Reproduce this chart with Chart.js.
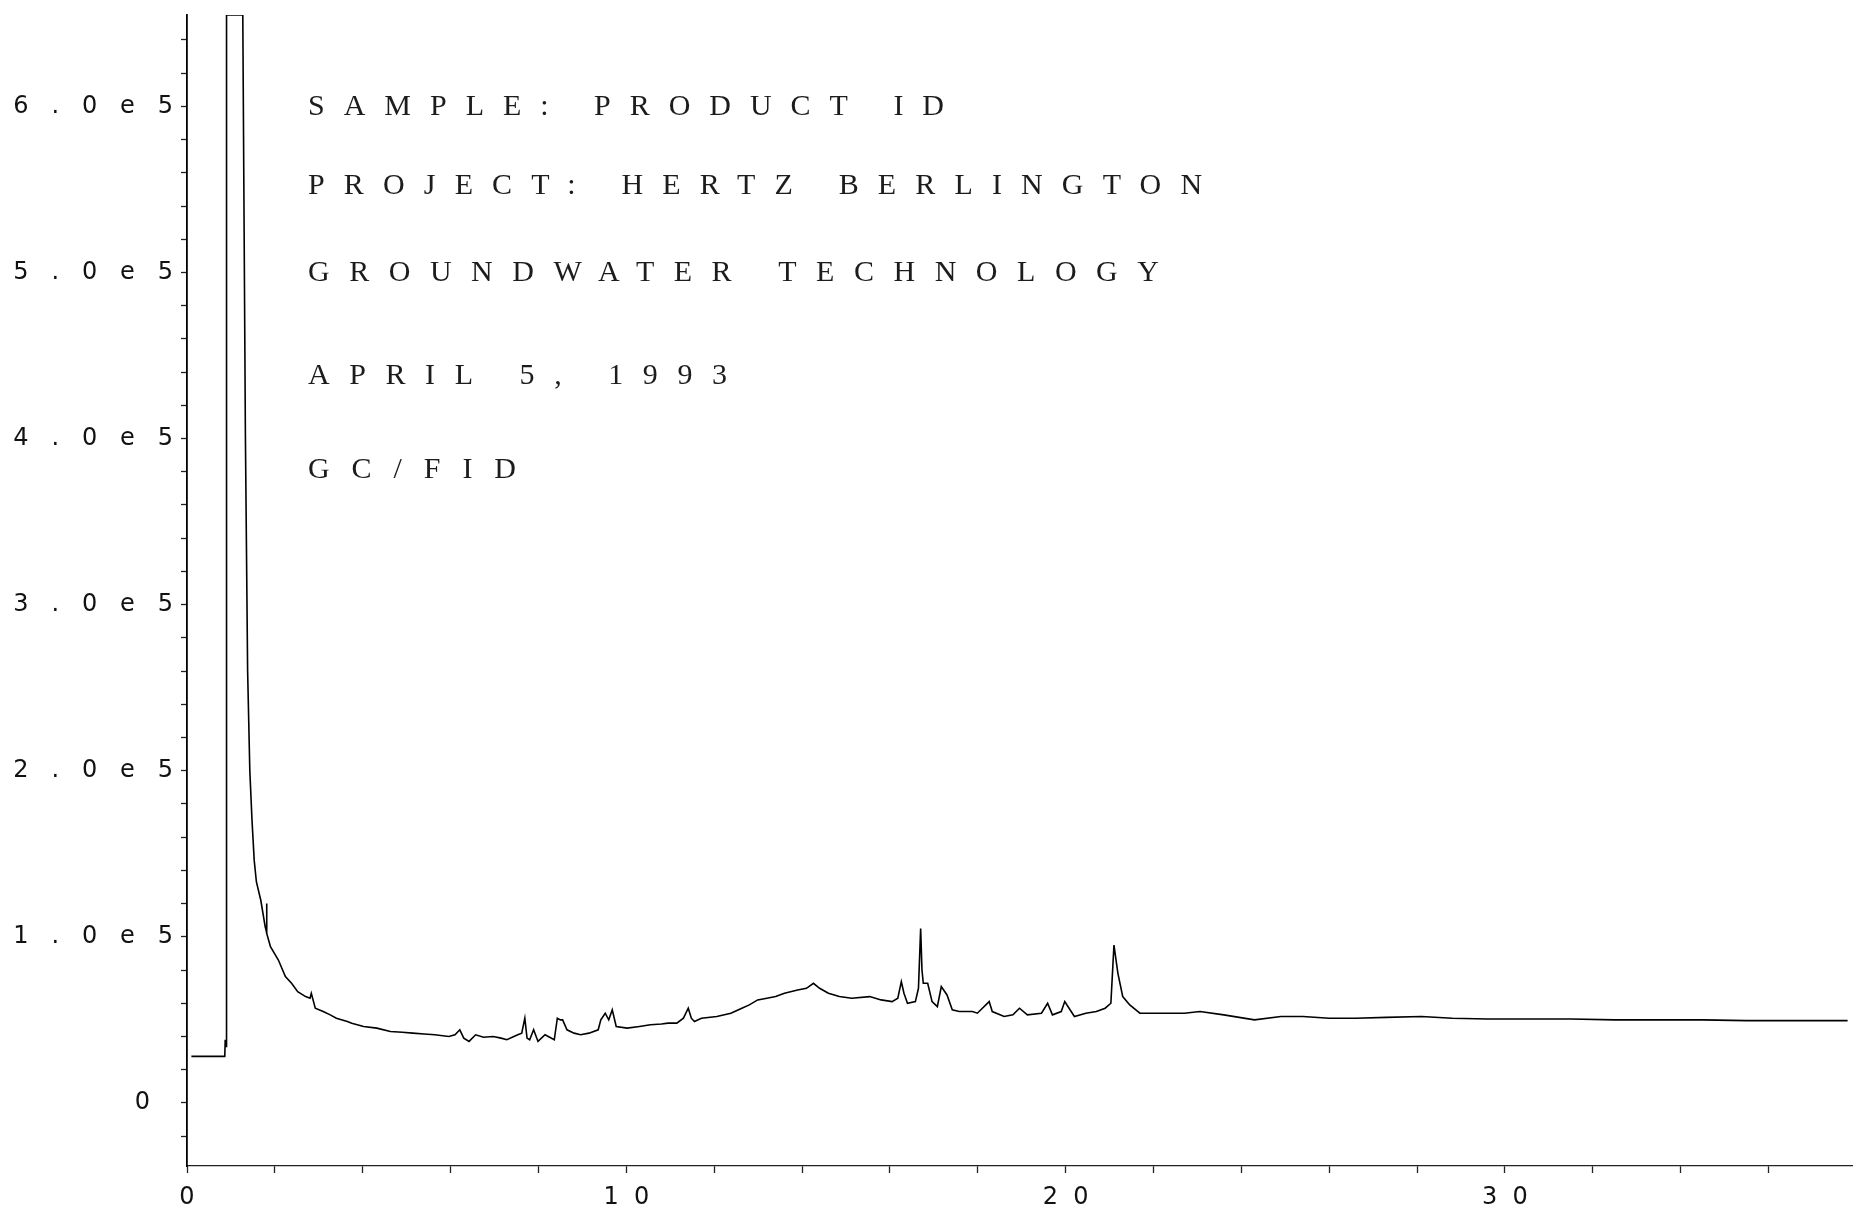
<!DOCTYPE html>
<html>
<head>
<meta charset="utf-8">
<title>GC/FID chromatogram</title>
<script src="https://cdn.jsdelivr.net/npm/chart.js@4.4.1/dist/chart.umd.min.js"></script>
<style>
  html, body { margin: 0; padding: 0; background: #fff; }
  canvas { display: block; }
</style>
</head>
<body>
<canvas id="gcChart" width="1860" height="1222"></canvas>
<script>
// retention time in minutes
const retentionTimes = [
  0.10, 0.86, 0.87, 0.88, 0.89, 0.90, 1.27, 1.33, 1.38, 1.43,
  1.48, 1.53, 1.58, 1.68, 1.78, 1.80, 1.81, 1.82, 1.90, 2.08,
  2.24, 2.38, 2.52, 2.70, 2.80, 2.83, 2.92, 3.10, 3.26, 3.40,
  3.65, 3.75, 4.02, 4.32, 4.63, 4.90, 5.14, 5.40, 5.64, 5.96,
  6.10, 6.21, 6.30, 6.42, 6.57, 6.75, 6.97, 7.15, 7.28, 7.53,
  7.62, 7.69, 7.74, 7.80, 7.89, 7.99, 8.15, 8.36, 8.43, 8.50,
  8.55, 8.65, 8.81, 8.96, 9.15, 9.36, 9.42, 9.52, 9.60, 9.68,
  9.77, 10.02, 10.30, 10.55, 10.80, 10.95, 11.15, 11.30, 11.41, 11.48,
  11.55, 11.71, 12.06, 12.38, 12.63, 12.80, 12.99, 13.20, 13.40, 13.60,
  13.90, 14.10, 14.26, 14.40, 14.60, 14.85, 15.13, 15.54, 15.80, 16.05,
  16.18, 16.26, 16.32, 16.40, 16.58, 16.65, 16.70, 16.73, 16.76, 16.86,
  16.96, 17.08, 17.17, 17.30, 17.42, 17.58, 17.88, 17.99, 18.26, 18.33,
  18.60, 18.80, 18.95, 19.13, 19.45, 19.59, 19.70, 19.90, 19.98, 20.20,
  20.46, 20.70, 20.90, 21.03, 21.10, 21.19, 21.30, 21.46, 21.69, 22.00,
  22.70, 23.06, 23.60, 24.30, 24.90, 25.40, 26.00, 26.60, 27.30, 28.10,
  28.80, 29.60, 30.50, 31.50, 32.50, 33.50, 34.50, 35.50, 36.50, 37.80
];

// FID response (counts); the solvent peak is clipped at the top of the plot
const detectorResponse = [
  28000, 28000, 38000, 34000, 34000, 655000, 655000, 400000, 260000, 200000,
  170000, 146000, 133000, 122000, 106000, 104000, 120000, 102000, 94000, 86000,
  76000, 72000, 67000, 64000, 63000, 66000, 57000, 55000, 53000, 51000,
  49000, 48000, 46000, 45000, 43000, 42500, 42000, 41500, 41000, 40000,
  41000, 44000, 39000, 37000, 41000, 39500, 40000, 39000, 38000, 41000,
  42000, 51000, 39000, 38000, 44000, 37000, 41000, 38000, 51000, 50000,
  50000, 44000, 42000, 41000, 42000, 44000, 50000, 54000, 50000, 56000,
  46000, 45000, 46000, 47000, 47500, 48000, 48000, 51000, 57000, 51000,
  49000, 51000, 52000, 54000, 57000, 59000, 62000, 63000, 64000, 66000,
  68000, 69000, 72000, 69000, 66000, 64000, 63000, 64000, 62000, 61000,
  63000, 73000, 66000, 60000, 61000, 69000, 105000, 80000, 72000, 72000,
  61000, 58000, 70000, 65000, 56000, 55000, 55000, 54000, 61000, 55000,
  52000, 53000, 57000, 53000, 54000, 60000, 53000, 55000, 61000, 52000,
  54000, 55000, 57000, 60000, 95000, 78000, 64000, 59000, 54000, 54000,
  54000, 55000, 53000, 50000, 52000, 52000, 51000, 51000, 51500, 52000,
  51000, 50500, 50500, 50500, 50000, 50000, 50000, 49500, 49500, 49500
];

// labelled response ticks; unlabelled minor marks sit every 20000 counts between them
const yMajorTicks = [0, 100000, 200000, 300000, 400000, 500000, 600000];
const yMinorStep = 20000;
// labelled time ticks; minor marks every 2 min
const xMajorTicks = [0, 10, 20, 30];

const headerLines = [
  'SAMPLE: PRODUCT ID',
  'PROJECT: HERTZ BERLINGTON',
  'GROUNDWATER TECHNOLOGY',
  'APRIL 5, 1993',
  'GC/FID'
];

// header layout: offsets from the plot's top-left corner, and the width each line is tracked out to
const headerLeft = 121;
const headerRows = [92, 171, 258, 361, 455];
const headerWidths = [636, 894, 851, 419, 208];

const Y_MIN = -38000;
const Y_MAX = 655000;

// plotter-style wide lettering for the tick labels
const spaced = (s, gap) => s.split('').join(' '.repeat(gap));

const sampleHeader = {
  id: 'sampleHeader',
  afterDraw(chart) {
    const { ctx, chartArea } = chart;
    ctx.save();
    ctx.font = '30px "Liberation Serif", "DejaVu Serif", serif';
    ctx.fillStyle = '#1c1c1c';
    ctx.textAlign = 'left';
    ctx.textBaseline = 'middle';
    headerLines.forEach((line, i) => {
      ctx.letterSpacing = '0px';
      const natural = ctx.measureText(line).width;
      const tracking = (headerWidths[i] - natural) / (line.length - 1);
      ctx.letterSpacing = tracking.toFixed(2) + 'px';
      ctx.fillText(line, chartArea.left + headerLeft, chartArea.top + headerRows[i]);
    });
    ctx.restore();
  }
};

const points = retentionTimes.map((t, i) => ({ x: t, y: detectorResponse[i] }));

new Chart(document.getElementById('gcChart').getContext('2d'), {
  type: 'line',
  data: {
    datasets: [{
      data: points,
      borderColor: '#000',
      borderWidth: 1.6,
      pointRadius: 0,
      tension: 0,
      fill: false
    }]
  },
  options: {
    responsive: false,
    animation: false,
    devicePixelRatio: 1,
    layout: { padding: { top: 15, right: 8, bottom: 0, left: 7 } },
    plugins: {
      legend: { display: false },
      tooltip: { enabled: false }
    },
    scales: {
      x: {
        type: 'linear',
        min: 0,
        max: 37.9,
        border: { color: '#222', width: 1.3 },
        grid: { drawOnChartArea: false, tickLength: 7, tickColor: '#222', tickWidth: 1.3 },
        ticks: {
          stepSize: 2,
          includeBounds: false,
          autoSkip: false,
          maxRotation: 0,
          padding: 10,
          color: '#111',
          font: { family: '"DejaVu Sans", sans-serif', size: 24 },
          callback: v => (xMajorTicks.includes(v) ? spaced(String(v), 2) : '')
        },
        afterFit(scale) {
          scale.height = 56;
          scale.paddingLeft = 0;
          scale.paddingRight = 0;
        }
      },
      y: {
        type: 'linear',
        min: Y_MIN,
        max: Y_MAX,
        border: { color: '#000', width: 1.8 },
        grid: { drawOnChartArea: false, tickLength: 6, tickColor: '#222', tickWidth: 1.3 },
        ticks: {
          autoSkip: false,
          padding: 8,
          color: '#111',
          font: { family: '"DejaVu Sans", sans-serif', size: 24 },
          callback: v => {
            if (!yMajorTicks.includes(v)) return '';
            // the plotter leaves the zero label short of the tick
            return v === 0 ? '0   ' : spaced((v / 100000).toFixed(1) + 'e5', 3);
          }
        },
        // every 20000 counts inside the range, majors included
        afterBuildTicks(scale) {
          const ticks = [];
          for (let v = Math.ceil(Y_MIN / yMinorStep) * yMinorStep; v < Y_MAX; v += yMinorStep) {
            ticks.push({ value: v });
          }
          scale.ticks = ticks;
        },
        afterFit(scale) {
          scale.width = 180;
          scale.paddingTop = 0;
          scale.paddingBottom = 0;
        }
      }
    }
  },
  plugins: [sampleHeader]
});
</script>
</body>
</html>
